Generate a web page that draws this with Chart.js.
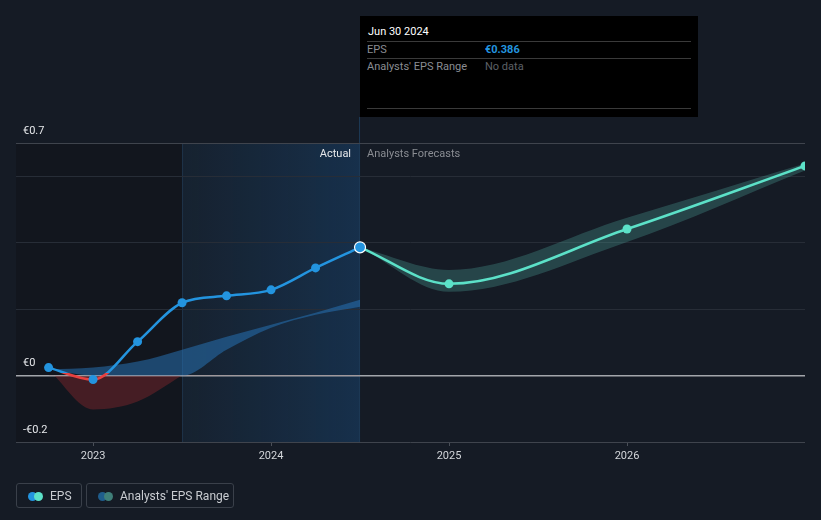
<!DOCTYPE html>
<html>
<head>
<meta charset="utf-8">
<script src="https://cdn.jsdelivr.net/npm/chart.js@4.4.1/dist/chart.umd.min.js"></script>
<style>
  html, body { margin: 0; padding: 0; background: #151b25; }
  body { width: 821px; height: 520px; position: relative; overflow: hidden; font-family: Roboto, "Noto Sans", sans-serif; }
  #wrap { position: absolute; left: 0; top: 0; width: 821px; height: 520px; }
  #tip { position: absolute; left: 360px; top: 16px; width: 338px; height: 101px; background: #000; color: #fff; font-size: 11px; }
  #tip .title { position: absolute; left: 8px; top: 9px; }
  #tip .sep { position: absolute; left: 7px; right: 7px; height: 1px; background: #3a3a3a; }
  #tip .lab { position: absolute; left: 7px; color: #8a8d93; }
  #tip .val { position: absolute; left: 125px; }
  .legend { position: absolute; top: 483px; height: 25px; border: 1px solid #3a404a; border-radius: 3px; box-sizing: border-box; color: #c9ccd1; font-size: 12px; }
  .legend span.t { position: absolute; top: 5px; }
  .dot { position: absolute; top: 8px; width: 9px; height: 9px; border-radius: 50%; }
</style>
</head>
<body>
<div id="wrap"><canvas id="chart" width="821" height="520"></canvas></div>

<div id="tip">
  <div class="title">Jun 30 2024</div>
  <div class="sep" style="top:25px"></div>
  <div class="lab" style="top:27px">EPS</div>
  <div class="val" style="top:27px;color:#2394df;font-weight:bold">€0.386</div>
  <div class="sep" style="top:42px"></div>
  <div class="lab" style="top:44px">Analysts' EPS Range</div>
  <div class="val" style="top:44px;color:#5d6067">No data</div>
  <div class="sep" style="top:92px"></div>
</div>

<div class="legend" style="left:16px;width:66px">
  <div class="dot" style="left:11px;background:#2394df"></div>
  <div class="dot" style="left:17px;background:#5ce1c8"></div>
  <span class="t" style="left:33px">EPS</span>
</div>
<div class="legend" style="left:86px;width:148px">
  <div class="dot" style="left:11px;background:#1f5d8c"></div>
  <div class="dot" style="left:17px;background:#3f7f79"></div>
  <span class="t" style="left:33px">Analysts' EPS Range</span>
</div>

<script>
// quarters as decimal years
const actualX = [2022.75, 2023.0, 2023.25, 2023.5, 2023.75, 2024.0, 2024.25, 2024.5];
const actualEps = [0.024, -0.012, 0.102, 0.219, 0.240, 0.258, 0.324, 0.386];

// past band (upper / lower)
const pastUpper = [0.018, 0.024, 0.042, 0.078, 0.117, 0.153, 0.189, 0.228];
const pastLower = [0.018, -0.102, -0.078, 0.0, 0.078, 0.144, 0.183, 0.207];

const forecastX = [2024.5, 2025.0, 2026.0, 2027.0];
const forecastEps = [0.386, 0.276, 0.441, 0.631];
const forecastUpper = [0.386, 0.318, 0.475, 0.638];
const forecastLower = [0.386, 0.252, 0.402, 0.617];

const yearTicks = [2023, 2024, 2025, 2026];
const yTicks = [-0.2, 0, 0.2, 0.4, 0.6, 0.7];
const yLabels = { '-0.2': '-€0.2', '0': '€0', '0.7': '€0.7' };

const xMin = 2022.567, xMax = 2027.0;
const highlightFrom = 2023.5, highlightTo = 2024.5;

const BLUE = '#2394df', RED = '#e8403f', TEAL = '#5ce1c8';

function pts(xs, ys) { return xs.map((x, i) => ({ x: x, y: ys[i] })); }

function epsColor(ctx) {
  const chart = ctx.chart;
  const area = chart.chartArea;
  if (!area) return BLUE;
  const z = chart.scales.y.getPixelForValue(0) - 3;
  let s = (z - area.top) / (area.bottom - area.top);
  s = Math.min(Math.max(s, 0), 1);
  const g = chart.ctx.createLinearGradient(0, area.top, 0, area.bottom);
  g.addColorStop(0, BLUE);
  g.addColorStop(s, BLUE);
  g.addColorStop(s, RED);
  g.addColorStop(1, RED);
  return g;
}

const bgPlugin = {
  id: 'bg',
  beforeDraw(chart) {
    const { ctx, chartArea: a, scales } = chart;
    const x1 = scales.x.getPixelForValue(highlightFrom);
    const x2 = scales.x.getPixelForValue(highlightTo);
    ctx.save();
    ctx.fillStyle = '#12161e';
    ctx.fillRect(a.left, a.top, x1 - a.left, a.bottom - a.top);
    const g = ctx.createLinearGradient(x1, 0, x2, 0);
    g.addColorStop(0, 'rgba(25,45,65,0.4)');
    g.addColorStop(1, 'rgba(25,70,115,0.5)');
    ctx.fillStyle = g;
    ctx.fillRect(x1, a.top, x2 - x1, a.bottom - a.top);
    ctx.fillStyle = 'rgba(40,70,100,0.5)';
    ctx.fillRect(x1, a.top, 1, a.bottom - a.top);
    ctx.fillStyle = '#1e3a56';
    ctx.fillRect(x2 - 1, 117, 1, a.bottom - 117);
    ctx.font = '11px Roboto, "Noto Sans", sans-serif';
    ctx.textBaseline = 'middle';
    ctx.textAlign = 'right';
    ctx.fillStyle = '#e6e8eb';
    ctx.fillText('Actual', x2 - 9, a.top + 11);
    ctx.textAlign = 'left';
    ctx.fillStyle = '#8a8d93';
    ctx.fillText('Analysts Forecasts', x2 + 7, a.top + 11);
    ctx.restore();
  }
};

new Chart(document.getElementById('chart'), {
  type: 'line',
  data: {
    datasets: [
      {
        label: 'EPS',
        data: pts(actualX, actualEps),
        borderColor: epsColor,
        borderWidth: 2.5,
        pointRadius: [4.5, 4.5, 4.5, 4.5, 4.5, 4.5, 4.5, 5.5],
        pointBackgroundColor: BLUE,
        pointBorderColor: ['#2394df', '#2394df', '#2394df', '#2394df', '#2394df', '#2394df', '#2394df', '#ffffff'],
        pointBorderWidth: [0, 0, 0, 0, 0, 0, 0, 1.2],
        cubicInterpolationMode: 'monotone',
        fill: false,
        order: 0
      },
      {
        label: 'EPS forecast',
        data: pts(forecastX, forecastEps),
        borderColor: TEAL,
        borderWidth: 2.5,
        pointRadius: [0, 4.5, 4.5, 4.5],
        pointBackgroundColor: TEAL,
        pointBorderWidth: 0,
        cubicInterpolationMode: 'monotone',
        fill: false,
        clip: 0,
        order: 1
      },
      {
        label: 'past lower',
        data: pts(actualX, pastLower),
        borderWidth: 0,
        pointRadius: 0,
        cubicInterpolationMode: 'monotone',
        fill: { target: 'origin', above: 'rgba(0,0,0,0)', below: 'rgba(140,40,45,0.42)' },
        order: 6
      },
      {
        label: 'past lower clipped',
        data: pts(actualX, pastLower.map(v => Math.max(v, 0))),
        borderWidth: 0,
        pointRadius: 0,
        cubicInterpolationMode: 'monotone',
        fill: false,
        order: 7
      },
      {
        label: 'past upper',
        data: pts(actualX, pastUpper),
        borderWidth: 0,
        pointRadius: 0,
        cubicInterpolationMode: 'monotone',
        fill: { target: 3, above: 'rgba(40,120,190,0.5)', below: 'rgba(40,120,190,0.5)' },
        order: 5
      },
      {
        label: 'forecast lower',
        data: pts(forecastX, forecastLower),
        borderWidth: 0,
        pointRadius: 0,
        cubicInterpolationMode: 'monotone',
        fill: false,
        order: 9
      },
      {
        label: 'forecast upper',
        data: pts(forecastX, forecastUpper),
        borderWidth: 0,
        pointRadius: 0,
        cubicInterpolationMode: 'monotone',
        fill: { target: 5, above: 'rgba(80,170,160,0.3)', below: 'rgba(80,170,160,0.3)' },
        order: 8
      }
    ]
  },
  options: {
    responsive: false,
    animation: false,
    layout: { padding: { left: 16, right: 16, top: 143, bottom: 0 } },
    plugins: { legend: { display: false }, tooltip: { enabled: false } },
    scales: {
      x: {
        type: 'linear',
        min: xMin,
        max: xMax,
        afterBuildTicks: (axis) => { axis.ticks = yearTicks.map(v => ({ value: v })); },
        afterFit: (axis) => { axis.height = 78; },
        grid: { display: true, drawOnChartArea: false, drawTicks: true, tickLength: 4, color: '#4a4f58' },
        border: { display: false },
        ticks: {
          color: '#d3d6da',
          padding: 4,
          font: { family: 'Roboto', size: 11 },
          maxRotation: 0,
          callback: (v) => String(v)
        }
      },
      y: {
        min: -0.2,
        max: 0.7,
        afterBuildTicks: (axis) => { axis.ticks = yTicks.map(v => ({ value: v })); },
        afterFit: (axis) => { axis.width = 0; },
        grid: {
          drawTicks: false,
          color: (c) => {
            const v = c.tick ? c.tick.value : null;
            if (v === 0) return '#a3a6ab';
            if (v === -0.2 || v === 0.7) return '#3f444d';
            return '#272d37';
          },
          lineWidth: (c) => (c.tick && c.tick.value === 0 ? 1.5 : 1)
        },
        border: { display: false },
        ticks: {
          mirror: true,
          padding: 7,
          labelOffset: -12,
          color: '#e6e8eb',
          font: { family: 'Roboto', size: 11 },
          callback: (v) => yLabels[String(Math.round(v * 10) / 10)] || ''
        }
      }
    }
  },
  plugins: [bgPlugin]
});
</script>
</body>
</html>
